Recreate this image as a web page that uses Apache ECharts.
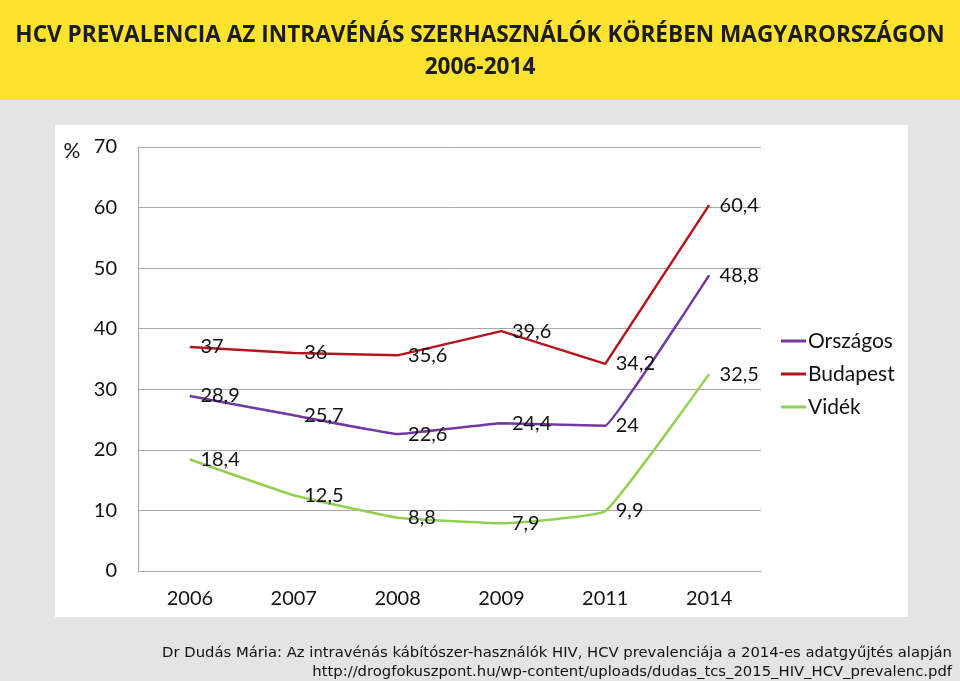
<!DOCTYPE html>
<html>
<head>
<meta charset="utf-8">
<script src="https://cdn.jsdelivr.net/npm/echarts@6/dist/echarts.min.js"></script>
<style>
html,body{margin:0;padding:0;background:#e4e4e4;}
#c{width:960px;height:681px;}
</style>
</head>
<body>
<div id="c"></div>
<script>
var categories = ['2006', '2007', '2008', '2009', '2011', '2014'];
var orszagos = [28.9, 25.7, 22.6, 24.4, 24, 48.8];
var budapest = [37, 36, 35.6, 39.6, 34.2, 60.4];
var videk = [18.4, 12.5, 8.8, 7.9, 9.9, 32.5];
var seriesNames = ['Országos', 'Budapest', 'Vidék'];
var yTicks = { min: 0, max: 70, interval: 10 };

var chart = echarts.init(document.getElementById('c'), null, { renderer: 'canvas' });

var tickFont = 'Lato, sans-serif';

function mkSeries(name, data, color, smooth) {
  return {
    name: name,
    type: 'line',
    data: data,
    smooth: smooth,
    symbol: 'circle',
    symbolSize: 1,
    showSymbol: true,
    lineStyle: { color: color, width: 2.5 },
    itemStyle: { color: color },
    label: {
      show: true,
      position: 'right',
      distance: 10,
      fontFamily: tickFont,
      fontSize: 20,
      color: '#111',
      formatter: function (p) { return String(p.value).replace('.', ','); }
    },
    z: 3
  };
}

chart.setOption({
  backgroundColor: '#e4e4e4',
  animation: false,
  graphic: [
    { type: 'rect', z: -10, silent: true, shape: { x: 0, y: 0, width: 960, height: 100 }, style: { fill: '#fde22e' } },
    { type: 'rect', z: -10, silent: true, shape: { x: 55, y: 125, width: 853, height: 492 }, style: { fill: '#ffffff' } },
    { type: 'text', z: 5, x: 480, y: 36, style: { text: 'HCV PREVALENCIA AZ INTRAVÉNÁS SZERHASZNÁLÓK KÖRÉBEN MAGYARORSZÁGON',
        fontFamily: '"Open Sans", sans-serif', fontWeight: 'bold', fontSize: 22.6, fill: '#1c1c1c', align: 'center', verticalAlign: 'middle' } },
    { type: 'text', z: 5, x: 480, y: 68, style: { text: '2006-2014',
        fontFamily: '"Open Sans", sans-serif', fontWeight: 'bold', fontSize: 22.6, fill: '#1c1c1c', align: 'center', verticalAlign: 'middle' } },
    { type: 'text', z: 5, x: 72, y: 151, style: { text: '%', fontFamily: tickFont, fontSize: 21, fill: '#111', align: 'center', verticalAlign: 'middle' } },
    { type: 'text', z: 5, x: 952, y: 653, style: {
        text: 'Dr Dudás Mária: Az intravénás kábítószer-használók HIV, HCV prevalenciája a 2014-es adatgyűjtés alapján',
        fontFamily: '"DejaVu Sans", Verdana, sans-serif', fontSize: 14.8, fill: '#111', align: 'right', verticalAlign: 'middle' } },
    { type: 'text', z: 5, x: 952, y: 672, style: {
        text: 'http://drogfokuszpont.hu/wp-content/uploads/dudas_tcs_2015_HIV_HCV_prevalenc.pdf',
        fontFamily: '"DejaVu Sans", Verdana, sans-serif', fontSize: 14.8, fill: '#111', align: 'right', verticalAlign: 'middle' } }
  ],
  legend: {
    orient: 'vertical',
    left: 776,
    top: 325,
    icon: 'rect',
    itemWidth: 25,
    itemHeight: 3,
    itemGap: 11,
    data: seriesNames,
    textStyle: { fontFamily: 'Lato, sans-serif', fontSize: 21, color: '#111', lineHeight: 22, padding: [0, 0, 0, -3] }
  },
  grid: { left: 138, right: 199, top: 147, bottom: 110, containLabel: false },
  xAxis: {
    type: 'category',
    data: categories,
    boundaryGap: true,
    axisLine: { lineStyle: { color: '#a8a8a8', width: 1 } },
    axisTick: { show: false },
    axisLabel: { fontFamily: tickFont, fontSize: 20, color: '#111', margin: 18 }
  },
  yAxis: {
    type: 'value',
    min: yTicks.min,
    max: yTicks.max,
    interval: yTicks.interval,
    axisLine: { show: true, lineStyle: { color: '#a8a8a8', width: 1 } },
    axisTick: { show: false },
    splitLine: { lineStyle: { color: '#a8a8a8', width: 1 } },
    axisLabel: { fontFamily: tickFont, fontSize: 20, color: '#111', margin: 21 }
  },
  series: [
    mkSeries(seriesNames[0], orszagos, '#7038a0', 0.05),
    mkSeries(seriesNames[1], budapest, '#b5141f', false),
    mkSeries(seriesNames[2], videk, '#92d050', 0.1)
  ]
});
</script>
</body>
</html>
